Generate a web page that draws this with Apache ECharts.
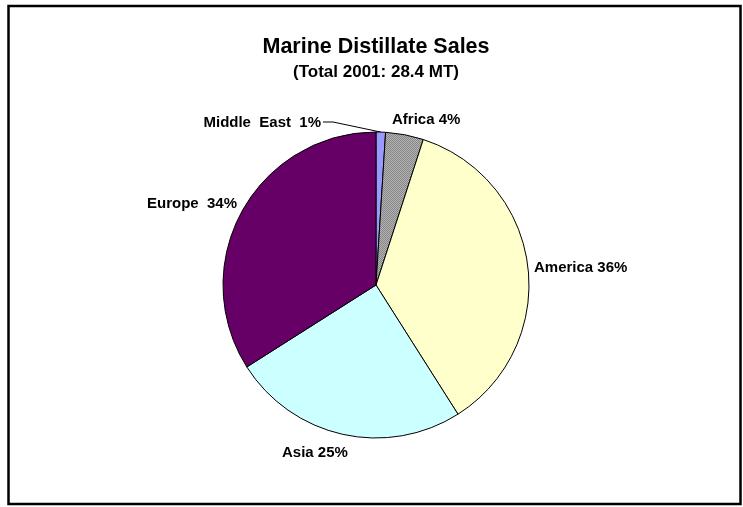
<!DOCTYPE html>
<html>
<head>
<meta charset="utf-8">
<script src="https://cdn.jsdelivr.net/npm/echarts@6/dist/echarts.min.js"></script>
<style>
  html, body { margin: 0; padding: 0; background: #ffffff; }
  #chart { width: 743px; height: 507px; }
</style>
</head>
<body>
<div id="chart"></div>
<script>
// Regional shares of marine distillate sales, 2001 (percent of 28.4 MT)
const regions = ['Middle  East', 'Africa', 'America', 'Asia', 'Europe'];
const shares = [1, 4, 36, 25, 34];
const separators = ['  ', ' ', ' ', ' ', '  '];

// Checkered grey fill for the Africa slice
function greyChecker() {
  const c = document.createElement('canvas');
  c.width = 2; c.height = 2;
  const g = c.getContext('2d');
  g.fillStyle = '#b4b4b4'; g.fillRect(0, 0, 2, 2);
  g.fillStyle = '#868686'; g.fillRect(0, 0, 1, 1); g.fillRect(1, 1, 1, 1);
  return c;
}

const sliceColors = ['#9999ff', { image: greyChecker(), repeat: 'repeat' }, '#ffffcc', '#ccffff', '#660066'];

// Label anchors: [x, y, horizontal alignment]
const labelAnchors = [
  [321, 123, 'right'],
  [392, 120, 'left'],
  [534, 268, 'left'],
  [282, 453, 'left'],
  [237, 204, 'right']
];

const cx = 376, cy = 285, R = 153;
const font = 'Liberation Sans, Arial, sans-serif';

const chart = echarts.init(document.getElementById('chart'), null, { renderer: 'canvas' });

const total = shares.reduce((a, b) => a + b, 0);
let cum = 0;
const midAngles = shares.map(v => { const m = (cum + v / 2) / total * 2 * Math.PI; cum += v; return m; });

chart.setOption({
  backgroundColor: '#ffffff',
  animation: false,
  title: {
    text: 'Marine Distillate Sales',
    subtext: '(Total 2001: 28.4 MT)',
    left: 371,
    textAlign: 'center',
    top: 31,
    itemGap: 6,
    textStyle: { fontFamily: font, fontWeight: 'bold', fontSize: 21.5, color: '#000' },
    subtextStyle: { fontFamily: font, fontWeight: 'bold', fontSize: 17, color: '#000' }
  },
  graphic: [{
    type: 'rect',
    shape: { x: 8.5, y: 6, width: 732, height: 498 },
    style: { fill: 'none', stroke: '#000', lineWidth: 2.5 },
    silent: true
  }],
  series: [{
    type: 'pie',
    center: [cx, cy],
    radius: R,
    startAngle: 90,
    clockwise: true,
    avoidLabelOverlap: false,
    itemStyle: { borderColor: '#000', borderWidth: 1 },
    label: {
      show: true,
      position: 'outside',
      fontFamily: font,
      fontWeight: 'bold',
      fontSize: 15,
      color: '#000',
      formatter: p => p.name + separators[p.dataIndex] + p.value + '%'
    },
    labelLine: { show: false, lineStyle: { color: '#000', width: 1 } },
    labelLayout: function (params) {
      const a = labelAnchors[params.dataIndex];
      const out = { x: a[0], y: a[1], align: a[2], verticalAlign: 'middle' };
      if (params.dataIndex === 0) {
        const ang = midAngles[0];
        const ex = cx + R * Math.sin(ang), ey = cy - R * Math.cos(ang);
        out.labelLinePoints = [[ex, ey], [a[0] + 12, a[1] - 1], [a[0] + 2, a[1] - 1]];
      }
      return out;
    },
    data: regions.map((name, i) => ({
      name: name,
      value: shares[i],
      itemStyle: { color: sliceColors[i] },
      labelLine: { show: i === 0 }
    }))
  }]
});
</script>
</body>
</html>
